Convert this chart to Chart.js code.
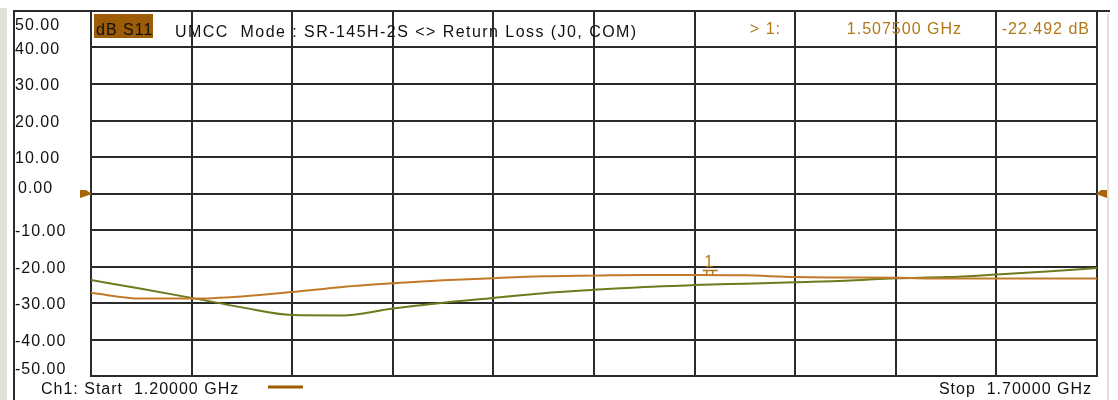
<!DOCTYPE html>
<html>
<head>
<meta charset="utf-8">
<script src="https://cdn.jsdelivr.net/npm/chart.js@4.4.1/dist/chart.umd.min.js"></script>
<style>
    html, body { margin: 0; padding: 0; background: #fff; }
    #wrap { position: relative; width: 1118px; height: 400px; }
</style>
</head>
<body>
<div id="wrap"><canvas id="vna" width="1118" height="400"></canvas></div>
<script>
// sweep points (GHz) every 0.025 GHz
const freqs = [1.200, 1.225, 1.250, 1.275, 1.300, 1.325, 1.350, 1.375, 1.400, 1.425, 1.450,
               1.475, 1.500, 1.525, 1.550, 1.575, 1.600, 1.625, 1.650, 1.675, 1.700];
// active S11 trace (dB)
const s11Trace = [-27.2, -28.8, -28.8, -28.2, -27.0, -25.6, -24.6, -23.8, -23.2, -22.7, -22.5,
                  -22.3, -22.3, -22.4, -22.9, -23.0, -23.1, -23.3, -23.3, -23.3, -23.3];
// memory trace (dB)
const memTrace = [-23.7, -26.1, -28.6, -31.2, -33.3, -33.4, -31.5, -29.9, -28.6, -27.3, -26.4,
                  -25.6, -25.1, -24.7, -24.3, -23.9, -23.2, -22.9, -22.2, -21.4, -20.4];
const yTicks = [50, 40, 30, 20, 10, 0, -10, -20, -30, -40, -50];
const markerFreq = [1.5075];
const markerValue = [-22.492];
const refLevel = 0;
const startFreq = 1.2, stopFreq = 1.7;

const titleText = "UMCC  Mode : SR-145H-2S <> Return Loss (J0, COM)";
const traceLabel = "dB S11";

const GRID = "#2b2b2b";
const BROWN = "#b07818";
const FONT = '16px "Liberation Sans", Arial, sans-serif';

function toPoints(values) {
    return freqs.map((f, i) => ({x: f, y: values[i]}));
}

function text(ctx, str, x, y, align, color) {
    ctx.fillStyle = color;
    ctx.textAlign = align;
    ctx.fillText(str, x, y);
}

const analyzerScreen = {
    id: "analyzerScreen",
    beforeDraw(chart) {
        const {ctx, width, height} = chart;
        ctx.save();
        ctx.fillStyle = "#fff";
        ctx.fillRect(0, 0, width, height);
        ctx.fillStyle = "#e4e1dc";
        ctx.fillRect(0, 8, 7, height - 8);
        ctx.fillRect(1107, 14, 2, height - 14);
        ctx.strokeStyle = GRID;
        ctx.lineWidth = 2;
        ctx.beginPath();
        ctx.moveTo(13, 11);
        ctx.lineTo(1110, 11);
        ctx.moveTo(14, 11);
        ctx.lineTo(14, height);
        ctx.stroke();
        ctx.restore();
    },
    afterDatasetsDraw(chart) {
        const {ctx, chartArea} = chart;
        const xs = chart.scales.x, ys = chart.scales.y;
        ctx.save();
        // reference level arrows on both sides
        const ry = ys.getPixelForValue(refLevel);
        ctx.fillStyle = "#a8650a";
        ctx.beginPath();
        ctx.moveTo(chartArea.left - 11, ry - 3.5);
        ctx.lineTo(chartArea.left - 5, ry - 3.5);
        ctx.lineTo(chartArea.left + 1, ry + 0.5);
        ctx.lineTo(chartArea.left - 11, ry + 4.5);
        ctx.closePath();
        ctx.fill();
        ctx.beginPath();
        ctx.moveTo(chartArea.right + 10, ry - 3.5);
        ctx.lineTo(chartArea.right + 4, ry - 3.5);
        ctx.lineTo(chartArea.right - 1, ry + 0.5);
        ctx.lineTo(chartArea.right + 10, ry + 4.5);
        ctx.closePath();
        ctx.fill();

        // marker 1
        markerFreq.forEach((f, i) => {
            const px = xs.getPixelForValue(f);
            const py = ys.getPixelForValue(markerValue[i]);
            ctx.strokeStyle = BROWN;
            ctx.lineWidth = 1.5;
            ctx.beginPath();
            ctx.moveTo(px - 7, py - 5);
            ctx.lineTo(px + 8, py - 5);
            ctx.moveTo(px - 3, py - 5);
            ctx.lineTo(px - 3, py - 1);
            ctx.moveTo(px + 3, py - 5);
            ctx.lineTo(px + 3, py - 1);
            ctx.stroke();
            ctx.font = FONT;
            ctx.textBaseline = "alphabetic";
            text(ctx, String(i + 1), px - 1, py - 9, "center", BROWN);
        });
        ctx.restore();
    },
    afterDraw(chart) {
        const {ctx, chartArea} = chart;
        const ys = chart.scales.y;
        ctx.save();
        ctx.font = FONT;
        ctx.letterSpacing = "1px";
        ctx.textBaseline = "middle";

        // amplitude labels
        yTicks.forEach(v => {
            let y = ys.getPixelForValue(v) + 2;
            let x = 15;
            if (v === refLevel) { y -= 7; x += 3; }
            y = Math.min(Math.max(y, chartArea.top + 15), chartArea.bottom - 6);
            text(ctx, v.toFixed(2), x, y, "left", "#111");
        });

        // header line
        ctx.textBaseline = "alphabetic";
        ctx.fillStyle = "#9c5c06";
        ctx.fillRect(94, 14, 59, 24);
        text(ctx, traceLabel, 96, 35, "left", "#111");
        ctx.letterSpacing = "1.45px";
        text(ctx, titleText, 175, 37, "left", "#111");
        ctx.letterSpacing = "1px";
        const mf = markerFreq[0], mv = markerValue[0];
        text(ctx, "> 1:", 781, 34, "right", BROWN);
        text(ctx, mf.toFixed(6) + " GHz", 962, 34, "right", BROWN);
        text(ctx, mv.toFixed(3) + " dB", 1090, 34, "right", BROWN);

        // footer
        text(ctx, "Ch1: Start  " + startFreq.toFixed(5) + " GHz", 41, 394, "left", "#111");
        text(ctx, "Stop  " + stopFreq.toFixed(5) + " GHz", 1092, 394, "right", "#111");
        ctx.strokeStyle = "#9c5c06";
        ctx.lineWidth = 3;
        ctx.beginPath();
        ctx.moveTo(268, 387);
        ctx.lineTo(303, 387);
        ctx.stroke();
        ctx.restore();
    }
};

const noSize = scale => {
    if (scale.isHorizontal()) scale.height = 0;
    else scale.width = 0;
};

new Chart(document.getElementById("vna"), {
    type: "line",
    data: {
        datasets: [
            {
                label: "S11",
                data: toPoints(s11Trace),
                borderColor: "#c27a28",
                borderWidth: 2,
                pointRadius: 0,
                cubicInterpolationMode: "monotone",
            },
            {
                label: "Mem",
                data: toPoints(memTrace),
                borderColor: "#6f7a1c",
                borderWidth: 2,
                pointRadius: 0,
                cubicInterpolationMode: "monotone",
            }
        ]
    },
    options: {
        responsive: false,
        animation: false,
        devicePixelRatio: 1,
        layout: {padding: {left: 91, right: 21, top: 11, bottom: 24}},
        scales: {
            x: {
                type: "linear",
                min: startFreq,
                max: stopFreq,
                ticks: {display: false, stepSize: 0.05},
                grid: {color: GRID, lineWidth: 2, drawTicks: false},
                border: {color: GRID, width: 2},
                afterFit: noSize,
            },
            y: {
                min: -50,
                max: 50,
                ticks: {display: false, stepSize: 10},
                grid: {color: GRID, lineWidth: 2, drawTicks: false},
                border: {color: GRID, width: 2},
                afterFit: noSize,
            }
        },
        plugins: {
            legend: {display: false},
            tooltip: {enabled: false},
        }
    },
    plugins: [analyzerScreen]
});
</script>
</body>
</html>
